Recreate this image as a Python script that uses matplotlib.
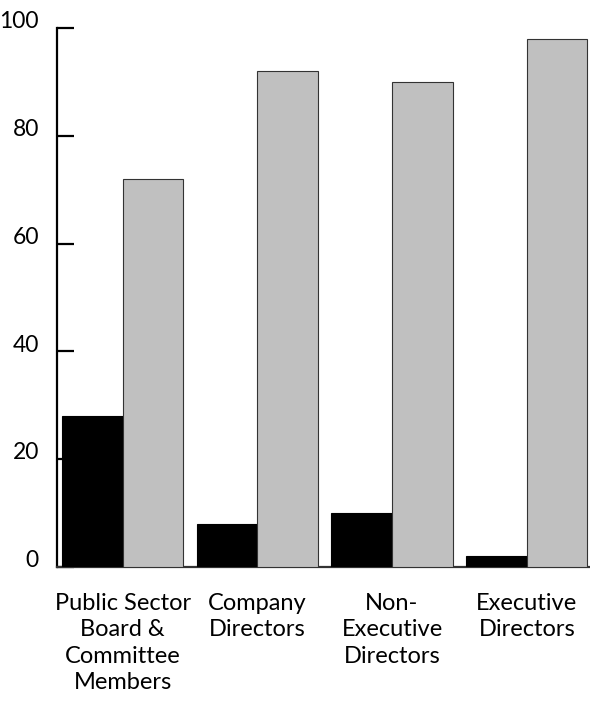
import matplotlib.pyplot as plt
import numpy as np
from matplotlib.transforms import ScaledTranslation

plt.rcParams['font.family'] = ['Lato', 'DejaVu Sans']

categories = ["Public Sector\nBoard &\nCommittee\nMembers", "Company\nDirectors",
              "Non-\nExecutive\nDirectors", "Executive\nDirectors"]
women = [28, 8, 10, 2]
men = [72, 92, 90, 98]
y_ticks = [0, 20, 40, 60, 80, 100]

fig = plt.figure(figsize=(5.9, 7.09), dpi=100)
ax = fig.add_axes([0.0966, 0.2003, 0.9024, 0.7602])

x = np.arange(len(categories))
w = 0.45
ax.bar(x - w / 2, women, w, color='black', edgecolor='black', linewidth=0.8, zorder=3)
ax.bar(x + w / 2, men, w, color='#c0c0c0', edgecolor='#333333', linewidth=0.8, zorder=3)

ax.set_xlim(-0.487, 3.465)
ax.set_ylim(0, 100)

ax.spines['top'].set_visible(False)
ax.spines['right'].set_visible(False)
ax.spines['left'].set_linewidth(1.6)
ax.spines['bottom'].set_linewidth(1.6)
ax.spines['bottom'].set_color('#333333')

ax.set_yticks(y_ticks)
ax.tick_params(axis='y', direction='in', length=12, width=1.6, pad=13, labelsize=16.5)
for lab in ax.get_yticklabels():
    lab.set_transform(lab.get_transform() + ScaledTranslation(0, 6 / 72, fig.dpi_scale_trans))

ax.set_xticks(x)
ax.set_xticklabels(categories, fontsize=17, linespacing=1.3, multialignment='center')
ax.tick_params(axis='x', length=0, pad=19)

fig.savefig('out.png', dpi=100)
